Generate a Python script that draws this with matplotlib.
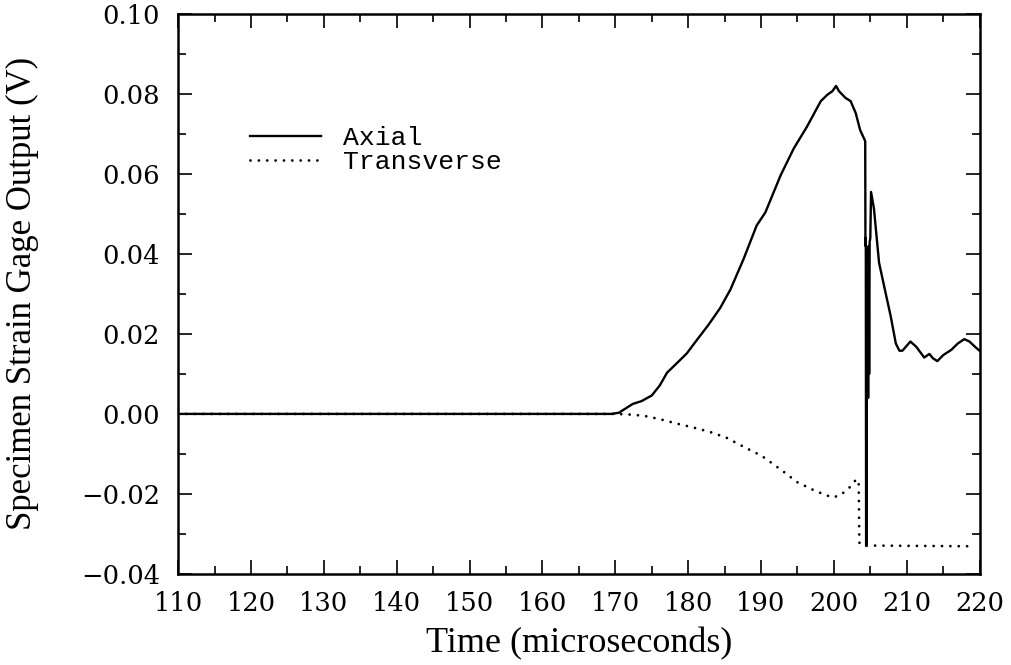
import matplotlib
matplotlib.use("Agg")
import matplotlib.pyplot as plt
from matplotlib.ticker import MultipleLocator

# strain gage traces (time in microseconds, output in volts)
axial_t = [110, 169.5, 170.5, 171.1, 172.4, 173.6, 175.0, 176.1, 177.1, 178.4,
           179.8, 181.2, 182.8, 184.4, 185.8, 187.6, 189.4, 190.6, 192.7, 194.5,
           196.3, 198.2, 199.1, 199.8, 200.3, 200.7, 201.6, 202.3, 203.0, 203.6,
           204.3, 204.33, 204.38, 204.42, 204.48, 204.52, 204.57, 204.63, 204.7,
           204.77, 204.84, 204.91, 205.0, 205.1, 205.5, 206.2, 206.9, 207.8,
           208.5, 209.0, 209.4, 210.5, 211.3, 212.4, 213.1, 213.6, 214.2, 215.0,
           216.1, 217.0, 217.9, 218.6, 219.6, 220.0]
axial_v = [0, 0, 0.0003, 0.001, 0.0025, 0.0032, 0.0046, 0.0071, 0.0103, 0.0126,
           0.0151, 0.0185, 0.0223, 0.0265, 0.0311, 0.0387, 0.0471, 0.0504, 0.0597, 0.0664,
           0.0718, 0.0782, 0.0798, 0.0807, 0.0820, 0.0807, 0.079, 0.0782, 0.0752, 0.071,
           0.0682, 0.042, 0.044, -0.033, -0.033, 0.040, 0.006, 0.041,
           0.004, 0.042, 0.010, 0.043, 0.044, 0.0555, 0.0513, 0.0378, 0.0319, 0.0244,
           0.0176, 0.0158, 0.0158, 0.0181, 0.0168, 0.0141, 0.015, 0.0139, 0.0132, 0.0147,
           0.016, 0.0176, 0.0187, 0.0181, 0.0164, 0.0158]

trans_t = [110, 170, 172.4, 174.0, 176.1, 178.4, 180.7, 183.0, 185.3, 187.6,
           190.1, 192.7, 195.0, 197.5, 199.8, 200.9, 202.1, 203.1, 203.4,
           203.5, 203.9, 219.2]
trans_v = [0, 0, -0.0002, -0.0005, -0.0013, -0.0024, -0.0034, -0.0045, -0.006, -0.0082,
           -0.0105, -0.0139, -0.0171, -0.0193, -0.0209, -0.0203, -0.0185, -0.0163, -0.0170,
           -0.0322, -0.0329, -0.0331]


def volts(v, pos):
    # two decimals, real minus sign, no "-0.00"
    if abs(v) < 1e-9:
        return "0.00"
    return ("%.2f" % v).replace("-", "\u2212")


fig = plt.figure(figsize=(10.12, 6.65), dpi=100)
ax = fig.add_axes([0.176, 0.137, 0.792, 0.842])

ax.plot(axial_t, axial_v, color="black", lw=1.7, label="Axial")
ax.plot(trans_t, trans_v, color="black", lw=2.0, linestyle=(0, (0.01, 3.0)),
        dash_capstyle="round", label="Transverse")

ax.set_xlim(110, 220)
ax.set_ylim(-0.04, 0.10)
ax.xaxis.set_major_locator(MultipleLocator(10))
ax.xaxis.set_minor_locator(MultipleLocator(5))
ax.yaxis.set_major_locator(MultipleLocator(0.02))
ax.yaxis.set_minor_locator(MultipleLocator(0.01))
ax.yaxis.set_major_formatter(plt.FuncFormatter(volts))

ax.tick_params(which="both", direction="in", top=True, right=True, width=1.2)
ax.tick_params(which="major", length=10)
ax.tick_params(which="minor", length=6)
ax.tick_params(axis="x", pad=12)
ax.tick_params(axis="y", pad=13)
for lab in ax.get_xticklabels() + ax.get_yticklabels():
    lab.set_family("DejaVu Serif")
    lab.set_fontsize(18.5)
for sp in ax.spines.values():
    sp.set_linewidth(1.8)

ax.set_xlabel("Time (microseconds)", family="Liberation Serif", fontsize=26, labelpad=8)
ax.set_ylabel("Specimen Strain Gage Output (V)", family="Liberation Serif", fontsize=25, labelpad=30)

ax.legend(loc="upper left", bbox_to_anchor=(0.09, 0.80), frameon=False,
          prop={"family": "Liberation Mono", "size": 19},
          handlelength=2.7, handletextpad=0.8, labelspacing=0.0,
          borderpad=0, borderaxespad=0)

fig.savefig("out.png", dpi=100)
